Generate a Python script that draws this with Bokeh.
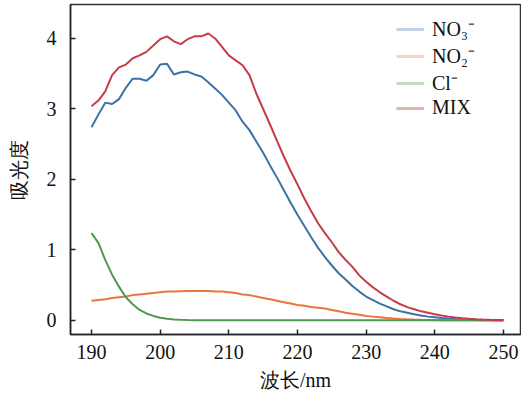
from bokeh.plotting import figure
from bokeh.models import Range1d, FixedTicker, Legend, LegendItem, ColumnDataSource
from bokeh.embed import file_html
from bokeh.resources import INLINE

wavelength = list(range(190, 251))

no3 = [2.74, 2.92, 3.09, 3.07, 3.14, 3.30, 3.43, 3.43, 3.40, 3.48,
       3.63, 3.64, 3.49, 3.52, 3.53, 3.49, 3.46, 3.38, 3.29, 3.20,
       3.09, 2.98, 2.82, 2.70, 2.54, 2.38, 2.20, 2.03, 1.85, 1.67,
       1.50, 1.34, 1.18, 1.03, 0.90, 0.78, 0.67, 0.58, 0.49, 0.41,
       0.34, 0.29, 0.24, 0.20, 0.16, 0.13, 0.11, 0.09, 0.07, 0.055,
       0.045, 0.035, 0.028, 0.022, 0.017, 0.013, 0.010, 0.008, 0.006, 0.005,
       0.004]

mix = [3.04, 3.12, 3.25, 3.48, 3.59, 3.63, 3.72, 3.76, 3.81, 3.90,
       3.99, 4.03, 3.96, 3.92, 3.99, 4.03, 4.03, 4.07, 4.00, 3.88,
       3.76, 3.69, 3.62, 3.48, 3.22, 3.00, 2.78, 2.55, 2.33, 2.12,
       1.93, 1.73, 1.55, 1.38, 1.24, 1.11, 0.97, 0.86, 0.76, 0.64,
       0.55, 0.47, 0.40, 0.34, 0.28, 0.23, 0.19, 0.16, 0.13, 0.11,
       0.09, 0.07, 0.055, 0.043, 0.033, 0.025, 0.019, 0.014, 0.010, 0.008,
       0.006]

no2 = [0.28, 0.29, 0.30, 0.32, 0.33, 0.34, 0.36, 0.37, 0.38, 0.39,
       0.40, 0.41, 0.41, 0.415, 0.42, 0.42, 0.42, 0.42, 0.41, 0.41,
       0.40, 0.39, 0.37, 0.36, 0.34, 0.32, 0.30, 0.28, 0.26, 0.24,
       0.22, 0.21, 0.19, 0.18, 0.17, 0.15, 0.13, 0.11, 0.095, 0.08,
       0.065, 0.055, 0.045, 0.035, 0.028, 0.022, 0.017, 0.013, 0.010, 0.008,
       0.006, 0.005, 0.004, 0.003, 0.003, 0.002, 0.002, 0.001, 0.001, 0.001,
       0.0]

cl = [1.24, 1.10, 0.86, 0.65, 0.48, 0.33, 0.23, 0.15, 0.10, 0.065,
      0.04, 0.025, 0.015, 0.01, 0.006, 0.005, 0.004, 0.004, 0.003, 0.003,
      0.003, 0.003, 0.003, 0.003, 0.003, 0.003, 0.003, 0.003, 0.003, 0.003,
      0.003, 0.003, 0.003, 0.003, 0.003, 0.003, 0.003, 0.003, 0.003, 0.003,
      0.003, 0.003, 0.003, 0.003, 0.003, 0.003, 0.003, 0.003, 0.003, 0.003,
      0.003, 0.003, 0.003, 0.003, 0.003, 0.003, 0.003, 0.003, 0.003, 0.003,
      0.003]

series_names = ["NO\u2083\u207b", "NO\u2082\u207b", "Cl\u207b", "MIX"]
x_ticks = [190, 200, 210, 220, 230, 240, 250]
y_ticks = [0, 1, 2, 3, 4]

line_colors = ["#3b73a6", "#e8763e", "#4f994f", "#c83a48"]
legend_colors = ["#c3d2e6", "#f9d2bb", "#c3dcbf", "#e2b3ae"]

FONT = "Liberation Serif"

p = figure(width=521, height=406, output_backend="svg", toolbar_location=None,
           x_range=Range1d(186.94, 252.48), y_range=Range1d(-0.1986, 4.482),
           min_border_left=70, min_border_right=1, min_border_top=4, min_border_bottom=72)

src = ColumnDataSource(dict(x=wavelength, no3=no3, no2=no2, cl=cl, mix=mix))
keys = ["no3", "no2", "cl", "mix"]
for k, c in zip(keys, line_colors):
    p.line("x", k, source=src, line_color=c, line_width=2)

items = []
for name, c in zip(series_names, legend_colors):
    r = p.line(x=[190.0], y=[float("nan")], line_color=c, line_width=3)
    items.append(LegendItem(label=name, renderers=[r]))

legend = Legend(items=items, location=(326, 215), padding=0, margin=0, spacing=0,
                glyph_width=28, glyph_height=20, label_height=20, label_standoff=8,
                border_line_color=None, background_fill_alpha=0,
                label_text_font=FONT, label_text_font_size="20px", label_text_color="#111111")
p.add_layout(legend, "center")

p.xgrid.visible = False
p.ygrid.visible = False
p.outline_line_color = "#333333"
p.outline_line_width = 1.5

for ax in (p.xaxis[0], p.yaxis[0]):
    ax.major_tick_in = 5
    ax.major_tick_out = 0
    ax.minor_tick_line_color = None
    ax.axis_line_color = "#222222"
    ax.axis_line_width = 1.5
    ax.major_tick_line_color = "#222222"
    ax.major_tick_line_width = 1.5
    ax.major_label_text_font = FONT
    ax.major_label_text_font_size = "20px"
    ax.major_label_text_color = "#111111"
    ax.axis_label_text_font = FONT
    ax.axis_label_text_font_size = "20px"
    ax.axis_label_text_font_style = "normal"
    ax.axis_label_text_color = "#111111"

p.xaxis[0].ticker = FixedTicker(ticks=x_ticks)
p.yaxis[0].ticker = FixedTicker(ticks=y_ticks)
p.xaxis[0].axis_label = "波长/nm"
p.yaxis[0].axis_label = "吸光度"
p.xaxis[0].major_label_standoff = 10
p.yaxis[0].major_label_standoff = 14
p.xaxis[0].axis_label_standoff = 7
p.yaxis[0].axis_label_standoff = 14

open("out.html", "w").write(file_html(p, INLINE))
